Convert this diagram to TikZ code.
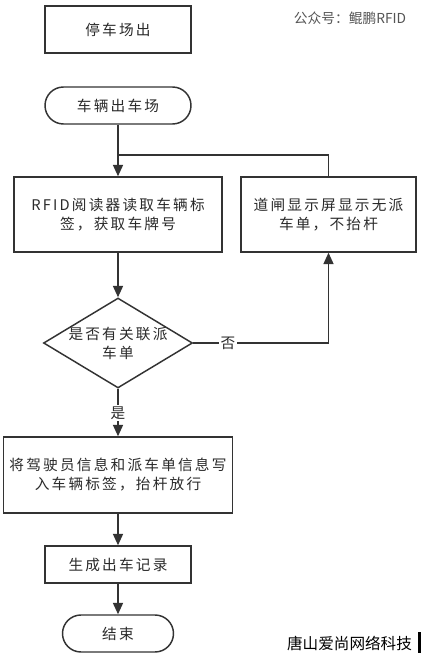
\documentclass[tikz,border=0pt]{standalone}
\usepackage{fontspec}
\setmainfont{Liberation Sans}
\newfontfamily\cjk[LetterSpace=15]{Noto Sans CJK SC}
\newfontfamily\wm{Noto Sans CJK SC}
\usetikzlibrary{arrows.meta,shapes.geometric,shapes.misc}
\definecolor{ln}{HTML}{333333}
\definecolor{txt}{HTML}{2A2A2A}
\definecolor{wmc}{HTML}{555555}
\tikzset{
  box/.style={draw=ln, line width=1.1pt, fill=white, inner sep=0pt, align=center,
    font=\cjk\fontsize{11}{14.25}\selectfont, text=txt},
  term/.style={box, rounded rectangle},
  dec/.style={draw=ln, line width=1.1pt, diamond, inner sep=0pt},
  arr/.style={draw=ln, line width=1.1pt, -{Triangle[width=7.5pt,length=8.5pt]}},
  con/.style={draw=ln, line width=1.1pt},
  lab/.style={fill=white, inner sep=1pt, font=\cjk\fontsize{11}{14.25}\selectfont, text=txt}
}
\begin{document}
\begin{tikzpicture}[x=0.75pt,y=-0.75pt]
\fill[white] (0,0) rectangle (421,666);
\useasboundingbox (0,0) rectangle (421,666);

\node[box, minimum width=109.5pt, minimum height=35.25pt] (park) at (118,29.5) {停车场出};
\node[font=\wm\fontsize{10.3}{12}\selectfont, text=wmc, inner sep=0pt] (wm1) at (350,18) {公众号：鲲鹏RFID};

\node[term, minimum width=109.5pt, minimum height=27.75pt] (start) at (118,105.5) {车辆出车场};
\node[box, minimum width=156pt, minimum height=56.25pt] (rfid) at (118,214.5) {RFID阅读器读取车辆标\\签，获取车牌号};
\node[box, minimum width=131.25pt, minimum height=56.25pt] (disp) at (328.5,214.5) {道闸显示屏显示无派\\车单，不抬杆};
\node[dec, minimum width=111.75pt, minimum height=67.5pt] (dia) at (118,343) {};
\node[align=center, inner sep=0pt, font=\cjk\fontsize{11}{14.25}\selectfont, text=txt] (diat) at (dia.center) {是否有关联派\\车单};
\node[box, minimum width=171.75pt, minimum height=57pt] (write) at (118,475) {将驾驶员信息和派车单信息写\\入车辆标签，抬杆放行};
\node[box, minimum width=109.5pt, minimum height=27.75pt] (rec) at (118,564.5) {生成出车记录};
\node[term, minimum width=83.25pt, minimum height=27.75pt] (end) at (118,633.5) {结束};

\node[font=\wm\fontsize{11.7}{13}\selectfont, text=black, inner sep=0pt] (wm2) at (349.5,643) {唐山爱尚网络科技};
\fill[black] (418,632) rectangle (421,653);

\coordinate (j) at (118,155);
\draw[arr] (start.south) -- (rfid.north);
\draw[con] (disp.north) |- (j);
\draw[arr] (rfid.south) -- (dia.north);
\draw[arr] (dia.east) -- (disp.south |- dia.east) -- (disp.south);
\node[lab] (no) at (228,343) {否};
\draw[arr] (dia.south) -- (write.north);
\node[lab] (yes) at (118,413) {是};
\draw[arr] (write.south) -- (rec.north);
\draw[arr] (rec.south) -- (end.north);
\end{tikzpicture}
\end{document}
